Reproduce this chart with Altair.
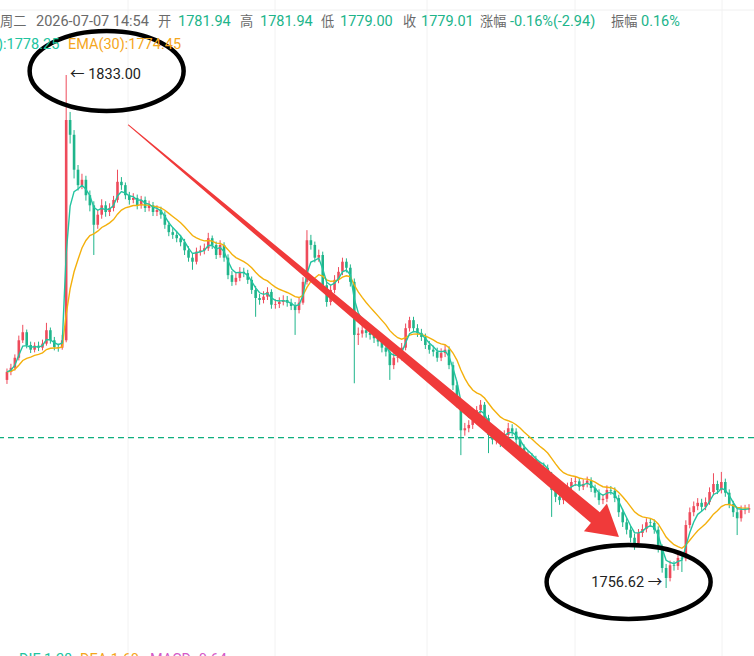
import altair as alt
import pandas as pd

# ---------------- data ----------------
OPEN = [1787.6, 1788.8, 1789.4, 1790.9, 1793.5, 1794.7, 1792.8, 1792.1, 1792.7, 1792.4,
        1793.0, 1795.0, 1793.5, 1792.5, 1792.4, 1793.5, 1826.3, 1824.1, 1818.9, 1816.6,
        1817.4, 1815.1, 1813.6, 1810.7, 1812.2, 1813.6, 1812.6, 1813.2, 1814.4, 1817.1,
        1816.6, 1815.1, 1814.4, 1814.7, 1813.6, 1814.4, 1813.2, 1813.6, 1812.6, 1812.9,
        1812.2, 1810.7, 1809.6, 1809.2, 1808.7, 1808.1, 1806.9, 1805.8, 1805.2, 1806.7,
        1806.9, 1807.2, 1808.7, 1807.7, 1806.2, 1807.7, 1805.8, 1803.2, 1802.2, 1802.8,
        1803.7, 1803.5, 1802.5, 1801.0, 1799.8, 1799.5, 1800.0, 1800.7, 1798.8, 1798.9,
        1799.2, 1799.5, 1799.1, 1798.6, 1798.0, 1799.1, 1802.2, 1808.4, 1807.7, 1805.8,
        1806.2, 1801.7, 1799.2, 1801.0, 1802.5, 1803.7, 1805.2, 1804.3, 1802.2, 1794.3,
        1794.5, 1795.0, 1794.6, 1794.3, 1793.8, 1793.3, 1792.4, 1791.8, 1789.8, 1790.9,
        1791.0, 1792.4, 1795.3, 1796.5, 1795.3, 1794.6, 1794.0, 1792.8, 1792.1, 1791.8,
        1790.9, 1791.6, 1792.1, 1789.8, 1786.8, 1784.3, 1780.1, 1780.4, 1780.9, 1781.6,
        1783.1, 1783.9, 1781.9, 1779.4, 1778.7, 1778.9, 1778.4, 1779.4, 1780.4, 1779.9,
        1778.7, 1777.5, 1776.4, 1776.1, 1775.7, 1774.9, 1774.6, 1774.5, 1773.4, 1771.2,
        1770.2, 1769.7, 1770.5, 1771.7, 1772.4, 1772.5, 1771.7, 1772.1, 1772.6, 1771.5,
        1770.8, 1769.7, 1769.9, 1771.2, 1771.1, 1770.0, 1767.9, 1766.4, 1765.3, 1764.1,
        1763.3, 1764.8, 1765.4, 1766.4, 1766.3, 1765.3, 1762.6, 1759.6, 1758.1, 1760.0,
        1759.9, 1761.1, 1761.0, 1766.0, 1767.9, 1768.8, 1769.3, 1768.7, 1769.4, 1770.9,
        1772.1, 1771.2, 1772.4, 1770.8, 1769.1, 1767.9, 1767.0, 1768.2, 1768.3]

HIGH = [1789.3, 1790.0, 1791.4, 1794.2, 1795.8, 1795.1, 1793.3, 1793.2, 1793.3, 1793.6,
        1796.1, 1795.4, 1794.0, 1793.0, 1794.3, 1833.0, 1827.5, 1824.8, 1819.6, 1818.3,
        1818.0, 1815.8, 1814.2, 1812.9, 1814.5, 1814.2, 1813.9, 1815.0, 1818.9, 1817.8,
        1817.0, 1815.6, 1815.4, 1815.2, 1815.0, 1814.9, 1814.3, 1814.1, 1813.6, 1813.4,
        1812.7, 1811.2, 1810.2, 1809.8, 1809.2, 1808.6, 1807.5, 1806.4, 1807.3, 1807.6,
        1807.9, 1809.5, 1809.1, 1808.2, 1808.4, 1808.1, 1806.3, 1803.8, 1803.5, 1804.4,
        1804.3, 1804.0, 1803.0, 1801.6, 1800.4, 1800.8, 1801.4, 1801.1, 1799.6, 1799.9,
        1800.2, 1800.1, 1799.7, 1799.2, 1799.8, 1802.9, 1809.9, 1809.2, 1808.2, 1807.0,
        1806.7, 1802.2, 1801.7, 1803.2, 1804.4, 1805.8, 1805.7, 1804.8, 1802.7, 1795.4,
        1795.8, 1795.6, 1795.2, 1794.9, 1794.4, 1793.9, 1793.0, 1792.4, 1791.6, 1791.8,
        1793.1, 1796.0, 1797.0, 1797.0, 1795.9, 1795.2, 1794.5, 1793.4, 1792.7, 1792.4,
        1792.3, 1792.8, 1792.6, 1790.3, 1787.3, 1784.8, 1781.2, 1781.6, 1782.3, 1783.7,
        1784.6, 1784.3, 1782.4, 1780.0, 1779.6, 1779.5, 1780.1, 1781.2, 1781.0, 1780.4,
        1779.2, 1778.0, 1777.0, 1776.7, 1776.3, 1775.5, 1775.3, 1775.0, 1773.9, 1771.8,
        1770.8, 1771.2, 1772.3, 1773.0, 1773.2, 1773.0, 1772.8, 1773.2, 1773.1, 1772.0,
        1771.3, 1770.6, 1771.9, 1771.8, 1771.6, 1770.5, 1768.4, 1767.0, 1765.9, 1764.7,
        1765.4, 1766.1, 1767.0, 1767.0, 1766.8, 1765.8, 1763.1, 1760.2, 1760.7, 1760.6,
        1761.8, 1761.7, 1766.7, 1768.6, 1769.5, 1770.0, 1769.9, 1770.1, 1771.6, 1773.7,
        1772.6, 1773.9, 1772.9, 1771.3, 1769.6, 1768.5, 1768.9, 1769.0, 1769.1]

LOW = [1787.0, 1788.3, 1789.0, 1790.5, 1793.1, 1792.3, 1791.6, 1791.7, 1791.9, 1792.0,
       1792.7, 1793.0, 1792.0, 1791.8, 1792.1, 1793.2, 1822.8, 1817.6, 1815.8, 1816.0,
       1814.3, 1812.7, 1806.2, 1810.1, 1811.6, 1811.9, 1812.0, 1812.7, 1814.0, 1815.9,
       1814.5, 1813.7, 1813.9, 1813.0, 1813.1, 1812.6, 1812.7, 1812.0, 1812.0, 1811.6,
       1810.1, 1809.0, 1808.6, 1808.1, 1807.5, 1806.2, 1805.2, 1804.0, 1804.8, 1806.1,
       1806.3, 1806.8, 1807.1, 1805.6, 1805.8, 1805.2, 1802.6, 1801.6, 1801.7, 1802.3,
       1802.9, 1801.9, 1800.4, 1797.0, 1798.8, 1799.0, 1799.5, 1798.2, 1798.2, 1798.3,
       1798.7, 1798.5, 1798.0, 1794.3, 1797.5, 1798.8, 1801.8, 1807.0, 1805.1, 1805.2,
       1801.0, 1798.5, 1798.7, 1800.5, 1802.0, 1803.2, 1803.6, 1801.5, 1787.1, 1792.8,
       1793.9, 1793.9, 1793.6, 1793.1, 1792.6, 1791.7, 1791.1, 1787.6, 1789.2, 1790.2,
       1790.5, 1792.0, 1794.8, 1794.7, 1794.0, 1793.4, 1792.2, 1791.5, 1791.1, 1790.3,
       1790.4, 1791.0, 1789.2, 1786.1, 1783.5, 1776.4, 1779.3, 1779.8, 1780.3, 1781.0,
       1782.6, 1781.2, 1776.7, 1778.0, 1778.0, 1777.6, 1777.9, 1778.9, 1779.2, 1778.0,
       1776.8, 1775.7, 1775.4, 1775.0, 1774.2, 1773.9, 1773.8, 1772.7, 1767.2, 1769.4,
       1769.0, 1769.1, 1770.0, 1771.2, 1771.8, 1771.1, 1771.2, 1771.6, 1770.9, 1770.1,
       1769.0, 1769.1, 1769.4, 1770.5, 1769.4, 1767.2, 1765.7, 1764.6, 1763.4, 1762.3,
       1762.8, 1764.2, 1764.9, 1765.7, 1764.7, 1761.9, 1758.9, 1756.62, 1757.6, 1759.2,
       1759.3, 1759.0, 1760.6, 1765.5, 1767.3, 1768.2, 1768.0, 1768.2, 1769.0, 1770.4,
       1770.6, 1770.7, 1770.2, 1768.5, 1767.2, 1764.5, 1766.5, 1767.6, 1767.8]

CLOSE = [1788.8, 1789.4, 1790.9, 1793.5, 1794.7, 1792.8, 1792.1, 1792.7, 1792.4, 1793.0,
         1795.0, 1793.5, 1792.5, 1792.4, 1793.5, 1826.3, 1824.1, 1818.9, 1816.6, 1817.4,
         1815.1, 1813.6, 1810.7, 1812.2, 1813.6, 1812.6, 1813.2, 1814.4, 1817.1, 1816.6,
         1815.1, 1814.4, 1814.7, 1813.6, 1814.4, 1813.2, 1813.6, 1812.6, 1812.9, 1812.2,
         1810.7, 1809.6, 1809.2, 1808.7, 1808.1, 1806.9, 1805.8, 1805.2, 1806.7, 1806.9,
         1807.2, 1808.7, 1807.7, 1806.2, 1807.7, 1805.8, 1803.2, 1802.2, 1802.8, 1803.7,
         1803.5, 1802.5, 1801.0, 1799.8, 1799.5, 1800.0, 1800.7, 1798.8, 1798.9, 1799.2,
         1799.5, 1799.1, 1798.6, 1798.0, 1799.1, 1802.2, 1808.4, 1807.7, 1805.8, 1806.2,
         1801.7, 1799.2, 1801.0, 1802.5, 1803.7, 1805.2, 1804.3, 1802.2, 1794.3, 1794.5,
         1795.0, 1794.6, 1794.3, 1793.8, 1793.3, 1792.4, 1791.8, 1789.8, 1790.9, 1791.0,
         1792.4, 1795.3, 1796.5, 1795.3, 1794.6, 1794.0, 1792.8, 1792.1, 1791.8, 1790.9,
         1791.6, 1792.1, 1789.8, 1786.8, 1784.3, 1780.1, 1780.4, 1780.9, 1781.6, 1783.1,
         1783.9, 1781.9, 1779.4, 1778.7, 1778.9, 1778.4, 1779.4, 1780.4, 1779.9, 1778.7,
         1777.5, 1776.4, 1776.1, 1775.7, 1774.9, 1774.6, 1774.5, 1773.4, 1771.2, 1770.2,
         1769.7, 1770.5, 1771.7, 1772.4, 1772.5, 1771.7, 1772.1, 1772.6, 1771.5, 1770.8,
         1769.7, 1769.9, 1771.2, 1771.1, 1770.0, 1767.9, 1766.4, 1765.3, 1764.1, 1763.3,
         1764.8, 1765.4, 1766.4, 1766.3, 1765.3, 1762.6, 1759.6, 1758.1, 1760.0, 1759.9,
         1761.1, 1761.0, 1766.0, 1767.9, 1768.8, 1769.3, 1768.7, 1769.4, 1770.9, 1772.1,
         1771.2, 1772.4, 1770.8, 1769.1, 1767.9, 1767.0, 1768.2, 1768.3, 1768.5]

LAST_PRICE = [1779.01]
MAX_LABEL = "\u2190 1833.00"
MIN_LABEL = "1756.62 \u2192"
MAX_POS = [16.0, 1833.0]
MIN_POS = [166.0, 1757.36]

# annotation (hand-drawn marks) in data coordinates: bar index, price
ARROW_I = [30.75, 149.5]
ARROW_P = [1825.56, 1766.89]
ARROW_T = [0, 1]
ARROW_HEAD = [151.55, 1765.92]
ELLIPSE1 = [25.25, 1833.6]
ELLIPSE2 = [157.5, 1757.51]

HEADER1 = [("周二", "g", "c"), ("2026-07-07 14:54", "g", "n"), ("开", "g", "c"), ("1781.94", "t", "n"),
           ("高", "g", "c"), ("1781.94", "t", "n"), ("低", "g", "c"), ("1779.00", "t", "n"),
           ("收", "g", "c"), ("1779.01", "t", "n"), ("涨幅", "g", "c"), ("-0.16%(-2.94)", "t", "n"),
           ("振幅", "g", "c"), ("0.16%", "t", "n")]
HEADER1_X = [0, 36, 158, 178, 240, 260, 321, 340, 403, 421, 480, 510, 611, 641]
HEADER2 = [("):1778.25", "l", "n"), ("EMA(30):1774.45", "o", "n")]
HEADER2_X = [-2, 68]
FOOTER = [("DIF:1.28", "l", "n"), ("DEA:1.60", "o", "n"), ("MACD:-0.64", "p", "n")]
FOOTER_X = [19, 80, 150]

# ---------------- styling ----------------
RED = "#ee4b5b"
GREEN = "#1fb58b"
TEAL_LINE = "#22c4a0"
ORANGE = "#f4b00c"
ARROW_RED = "#f03a3a"
TXT = {"g": "#6a6a6a", "t": "#20b48a", "l": "#22c4a0", "o": "#f5a61c", "p": "#d45ac8"}
FS = {"c": 13.2, "n": 14.5}
FONT = "Roboto, Noto Sans CJK SC, sans-serif"

W, H = 754, 656
xs = alt.Scale(domain=[-0.5, 188.0], nice=False, zero=False)
ys = alt.Scale(domain=[1746.49, 1844.17], nice=False, zero=False)

df = pd.DataFrame({"i": list(range(len(CLOSE))), "open": OPEN, "high": HIGH,
                   "low": LOW, "close": CLOSE})
# moving-average indicator lines computed from the closes
df["fast"] = df["close"].ewm(span=4, adjust=False).mean()
df["slow"] = df["close"].ewm(span=13, adjust=False).mean()

X = alt.X("i:Q", scale=xs, axis=None)
col = alt.condition("datum.close >= datum.open", alt.value(RED), alt.value(GREEN))

base = alt.Chart(df)

layers = []

# faint grid
for gx in [128, 275, 427, 575, 722]:
    layers.append(alt.Chart(pd.DataFrame({"a": [0]})).mark_rule(color="#f2f2f2", strokeWidth=1).encode(
        x=alt.value(gx), y=alt.value(0), y2=alt.value(H)))
layers.append(alt.Chart(pd.DataFrame({"a": [0]})).mark_rule(color="#f0f0f0", strokeWidth=1).encode(
    x=alt.value(0), x2=alt.value(W), y=alt.value(10)))

# last price dashed line
layers.append(alt.Chart(pd.DataFrame({"p": LAST_PRICE})).mark_rule(
    color="#0fae7e", strokeDash=[6, 4], strokeWidth=1.4).encode(
    y=alt.Y("p:Q", scale=ys, axis=None)))

wick = base.mark_rule(strokeWidth=1).encode(
    x=X, y=alt.Y("low:Q", scale=ys, axis=None), y2="high:Q", color=col)
body = base.mark_bar(size=2.6).encode(
    x=X, y=alt.Y("open:Q", scale=ys, axis=None), y2="close:Q", color=col)
layers += [wick, body]

slow = base.mark_line(color=ORANGE, strokeWidth=1.4).encode(x=X, y=alt.Y("slow:Q", scale=ys, axis=None))
fast = base.mark_line(color=TEAL_LINE, strokeWidth=1.4).encode(x=X, y=alt.Y("fast:Q", scale=ys, axis=None))
layers += [slow, fast]

# arrow
arrow_df = pd.DataFrame({"i": ARROW_I, "p": ARROW_P, "t": ARROW_T})
layers.append(alt.Chart(arrow_df).mark_trail(color=ARROW_RED, opacity=1).encode(
    x=X, y=alt.Y("p:Q", scale=ys, axis=None),
    size=alt.Size("t:Q", scale=alt.Scale(domain=[0, 1], range=[1, 14]), legend=None)))
HEAD_PATH = "M -0.7 -1 L 1 0 L -0.7 1 Z"
layers.append(alt.Chart(pd.DataFrame({"i": [ARROW_HEAD[0]], "p": [ARROW_HEAD[1]]})).mark_point(
    shape=HEAD_PATH, size=1296, angle=39.7, filled=True, color=ARROW_RED, opacity=1, strokeWidth=0).encode(
    x=X, y=alt.Y("p:Q", scale=ys, axis=None)))


def ellipse_path(r):
    k = 0.5523
    kr = round(k * r, 4)
    return (f"M -1 0 C -1 {-kr} {-k} {-r} 0 {-r} C {k} {-r} 1 {-kr} 1 0 "
            f"C 1 {kr} {k} {r} 0 {r} C {-k} {r} -1 {kr} -1 0 Z")


for pos, w, r in [(ELLIPSE1, 154, 0.52), (ELLIPSE2, 164, 0.45)]:
    layers.append(alt.Chart(pd.DataFrame({"i": [pos[0]], "p": [pos[1]]})).mark_point(
        shape=ellipse_path(r), size=w * w, filled=False, color="black", opacity=1,
        strokeWidth=4.5).encode(x=X, y=alt.Y("p:Q", scale=ys, axis=None)))

# extreme labels
layers.append(alt.Chart(pd.DataFrame({"i": [MAX_POS[0]], "p": [MAX_POS[1]], "t": [MAX_LABEL]})).mark_text(
    align="left", baseline="middle", fontSize=14.5, font=FONT, color="#222222").encode(
    x=X, y=alt.Y("p:Q", scale=ys, axis=None), text="t:N"))
layers.append(alt.Chart(pd.DataFrame({"i": [MIN_POS[0]], "p": [MIN_POS[1]], "t": [MIN_LABEL]})).mark_text(
    align="right", baseline="middle", fontSize=14.5, font=FONT, color="#222222").encode(
    x=X, y=alt.Y("p:Q", scale=ys, axis=None), text="t:N"))

# header / footer texts
one = pd.DataFrame({"a": [0]})
for (txt, c, f), px in zip(HEADER1, HEADER1_X):
    layers.append(alt.Chart(one).mark_text(
        align="left", baseline="middle", fontSize=FS[f], font=FONT, color=TXT[c], text=txt).encode(
        x=alt.value(px), y=alt.value(22)))
for (txt, c, f), px in zip(HEADER2, HEADER2_X):
    layers.append(alt.Chart(one).mark_text(
        align="left", baseline="middle", fontSize=FS[f], font=FONT, color=TXT[c], text=txt).encode(
        x=alt.value(px), y=alt.value(45)))
for (txt, c, f), px in zip(FOOTER, FOOTER_X):
    layers.append(alt.Chart(one).mark_text(
        align="left", baseline="top", fontSize=FS[f], font=FONT, color=TXT[c], text=txt).encode(
        x=alt.value(px), y=alt.value(653)))

chart = alt.layer(*layers).properties(
    width=W, height=H, padding=0, autosize=alt.AutoSizeParams(type="none"), background="white"
).configure_view(stroke=None)

chart.save("out.html", embed_options={"renderer": "svg", "actions": False})
